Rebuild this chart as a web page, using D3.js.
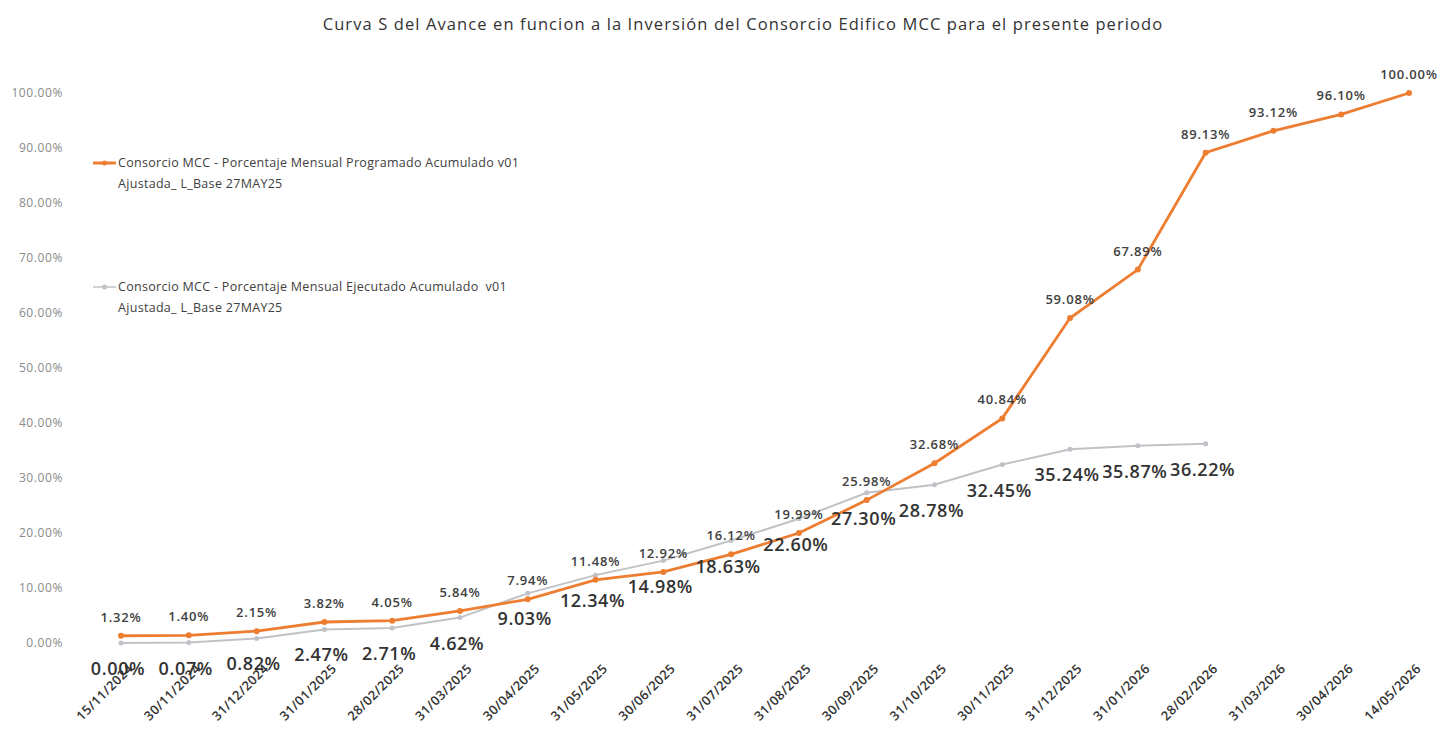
<!DOCTYPE html>
<html>
<head>
<meta charset="utf-8">
<script src="https://cdn.jsdelivr.net/npm/d3@7"></script>
<style>
  body { margin: 0; background: #fff; }
  svg text { font-family: "Open Sans", Lato, sans-serif; }
</style>
</head>
<body>
<div id="chart"></div>
<script>
const fechas = ["15/11/2024", "30/11/2024", "31/12/2024", "31/01/2025", "28/02/2025", "31/03/2025",
    "30/04/2025", "31/05/2025", "30/06/2025", "31/07/2025", "31/08/2025", "30/09/2025",
    "31/10/2025", "30/11/2025", "31/12/2025", "31/01/2026", "28/02/2026", "31/03/2026",
    "30/04/2026", "14/05/2026"];

// porcentaje programado acumulado
const programado = [1.32, 1.40, 2.15, 3.82, 4.05, 5.84, 7.94, 11.48, 12.92, 16.12, 19.99, 25.98,
    32.68, 40.84, 59.08, 67.89, 89.13, 93.12, 96.10, 100.00];

// porcentaje ejecutado acumulado (hasta 28/02/2026)
const ejecutado = [0.00, 0.07, 0.82, 2.47, 2.71, 4.62, 9.03, 12.34, 14.98, 18.63, 22.60, 27.30,
    28.78, 32.45, 35.24, 35.87, 36.22];

const yTicks = [0, 10, 20, 30, 40, 50, 60, 70, 80, 90, 100];

const titulo = "Curva S del Avance en funcion a la Inversión del Consorcio Edifico MCC para el presente periodo";
const leyenda = [
    ["Consorcio MCC - Porcentaje Mensual Programado Acumulado v01", "Ajustada_ L_Base 27MAY25"],
    ["Consorcio MCC - Porcentaje Mensual Ejecutado Acumulado  v01", "Ajustada_ L_Base 27MAY25"]
];

const width = 1437, height = 731;
const colProg = "#ED7D31", colEjec = "#BFC3C7";
const fuente = "'Open Sans', Lato, sans-serif";

const svg = d3.select("#chart").append("svg")
    .attr("width", width).attr("height", height);

const x = d3.scalePoint().domain(fechas).range([121, 1409]);
const y = d3.scaleLinear().domain([0, 100]).range([643, 93]);

// titulo
svg.append("text")
    .attr("x", 743).attr("y", 30)
    .attr("text-anchor", "middle")
    .attr("font-size", 16.5)
    .attr("letter-spacing", 1.1)
    .attr("fill", "#333")
    .text(titulo);

// eje Y
const yAxis = svg.append("g")
    .attr("transform", "translate(66,0)")
    .call(d3.axisLeft(y).tickValues(yTicks).tickSize(0).tickFormat(d => d.toFixed(2) + "%"));
yAxis.select(".domain").remove();
yAxis.selectAll("text").attr("font-size", 12).attr("letter-spacing", 0.6)
    .attr("fill", "#8a8a8a").attr("font-family", fuente);

// eje X
const xAxis = svg.append("g")
    .attr("transform", "translate(0,660)")
    .call(d3.axisBottom(x).tickSize(0));
xAxis.select(".domain").remove();
xAxis.selectAll("text")
    .attr("font-size", 13)
    .attr("font-weight", "600")
    .attr("letter-spacing", 0.4)
    .attr("fill", "#333")
    .attr("font-family", fuente)
    .attr("text-anchor", "end")
    .attr("dy", "0.35em")
    .attr("transform", "translate(7,4) rotate(-45)");

const line = d3.line().x((d, i) => x(fechas[i])).y(d => y(d));

// serie ejecutado
svg.append("path").datum(ejecutado)
    .attr("d", line).attr("fill", "none")
    .attr("stroke", colEjec).attr("stroke-width", 2);
svg.append("g").selectAll("circle").data(ejecutado).join("circle")
    .attr("cx", (d, i) => x(fechas[i])).attr("cy", d => y(d))
    .attr("r", 2.5).attr("fill", colEjec);

// serie programado
svg.append("path").datum(programado)
    .attr("d", line).attr("fill", "none")
    .attr("stroke", colProg).attr("stroke-width", 2.8);
svg.append("g").selectAll("circle").data(programado).join("circle")
    .attr("cx", (d, i) => x(fechas[i])).attr("cy", d => y(d))
    .attr("r", 3).attr("fill", colProg);

// etiquetas programado
svg.append("g").selectAll("text").data(programado).join("text")
    .attr("x", (d, i) => x(fechas[i]))
    .attr("y", d => y(d) - 14)
    .attr("text-anchor", "middle")
    .attr("font-size", 13)
    .attr("letter-spacing", 0.8)
    .attr("font-weight", "600")
    .attr("fill", "#404040")
    .text(d => d.toFixed(2) + "%");

// etiquetas ejecutado
svg.append("g").selectAll("text").data(ejecutado).join("text")
    .attr("x", (d, i) => x(fechas[i]) - 3)
    .attr("y", d => y(d) + 32)
    .attr("text-anchor", "middle")
    .attr("font-size", 18)
    .attr("letter-spacing", 0.6)
    .attr("font-weight", "600")
    .attr("fill", "#333")
    .text(d => d.toFixed(2) + "%");

// leyenda
const leg = svg.append("g");
[[colProg, 163, 3], [colEjec, 287, 1.5]].forEach((c, k) => {
    leg.append("line").attr("x1", 93).attr("x2", 116)
        .attr("y1", c[1]).attr("y2", c[1])
        .attr("stroke", c[0]).attr("stroke-width", c[2]);
    leg.append("circle").attr("cx", 104.5).attr("cy", c[1]).attr("r", 2.5).attr("fill", c[0]);
    leyenda[k].forEach((t, j) => {
        leg.append("text")
            .attr("x", 118).attr("y", c[1] + 4 + j * 21)
            .attr("font-size", 12.5)
            .attr("letter-spacing", 0.3)
            .attr("fill", "#404040")
            .attr("xml:space", "preserve")
            .text(t);
    });
});
</script>
</body>
</html>
